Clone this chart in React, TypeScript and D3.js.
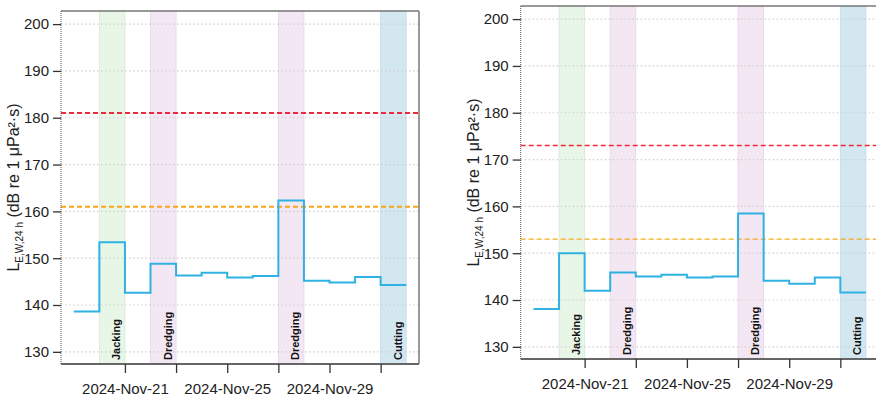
import React, { useEffect, useRef } from "react";
import * as d3 from "d3";

// daily values, one per day starting 2024-11-19
const days = [
  "2024-11-19", "2024-11-20", "2024-11-21", "2024-11-22", "2024-11-23", "2024-11-24",
  "2024-11-25", "2024-11-26", "2024-11-27", "2024-11-28", "2024-11-29", "2024-11-30", "2024-12-01",
];
const leftLevels = [138.6, 153.4, 142.6, 148.8, 146.3, 146.9, 145.9, 146.2, 162.3, 145.2, 144.8, 146.0, 144.3];
const rightLevels = [138.1, 150.0, 142.0, 145.9, 145.0, 145.4, 144.8, 145.0, 158.5, 144.1, 143.5, 144.8, 141.6];

// activities
const activityNames = ["Jacking", "Dredging", "Dredging", "Cutting"];
const activityStart = ["2024-11-20", "2024-11-22", "2024-11-27", "2024-12-01"];
const activityEnd = ["2024-11-21", "2024-11-23", "2024-11-28", "2024-12-02"];

// thresholds: [red, orange]
const leftThresholds = [181, 161];
const rightThresholds = [173, 153];

const yTicks = [130, 140, 150, 160, 170, 180, 190, 200];
const xTickDates = ["2024-11-21", "2024-11-23", "2024-11-25", "2024-11-27", "2024-11-29", "2024-12-01"];
const xLabelDates = ["2024-11-21", "2024-11-25", "2024-11-29"];

const bandColors = {
  Jacking: ["#e8f6e8", "#d6ead6"],
  Dredging: ["#f4e7f4", "#e5d5e5"],
  Cutting: ["#d3e7f1", "#c2dbe8"],
};
const thresholdColors = ["#f0283c", "#f7a71b"];

const parse = d3.utcParse("%Y-%m-%d");
const fmt = d3.utcFormat("%Y-%b-%d");

function Panel({ left, top, levels, thresholds, thick }) {
  const ref = useRef(null);

  useEffect(() => {
    const w = 358, h = 353;
    const g = d3.select(ref.current).attr("transform", `translate(${left}, ${top})`);
    g.selectAll("*").remove();

    const x = d3.scaleUtc()
      .domain([new Date(Date.UTC(2024, 10, 18, 12)), new Date(Date.UTC(2024, 11, 2, 12))])
      .range([0, w]);
    const y = d3.scaleLinear().domain([127.4, 202.8]).range([h, 0]);

    // activity bands
    activityNames.forEach((name, i) => {
      const x0 = x(parse(activityStart[i])), x1 = x(parse(activityEnd[i]));
      g.append("rect")
        .attr("x", x0).attr("y", 0).attr("width", x1 - x0).attr("height", h)
        .attr("fill", bandColors[name][0])
        .attr("stroke", bandColors[name][1]).attr("stroke-width", 0.8);
    });

    // grid
    g.selectAll(".grid").data(yTicks).join("line").attr("class", "grid")
      .attr("x1", 0).attr("x2", w)
      .attr("y1", d => y(d)).attr("y2", d => y(d))
      .attr("stroke", "#cfcfcf").attr("stroke-width", 1.2).attr("stroke-dasharray", "1.5,2.5");

    // thresholds
    thresholds.forEach((t, i) => {
      g.append("line")
        .attr("x1", 0).attr("x2", w).attr("y1", y(t)).attr("y2", y(t))
        .attr("stroke", thresholdColors[i]).attr("stroke-width", thick ? 2 : 1.3)
        .attr("stroke-dasharray", "5,3");
    });

    // activity labels
    activityNames.forEach((name, i) => {
      const x1 = x(parse(activityEnd[i]));
      g.append("text")
        .attr("transform", `translate(${x1 - 4.5}, ${h - 4}) rotate(-90)`)
        .attr("font-family", "Liberation Sans, Arial, sans-serif")
        .attr("font-size", 11).attr("font-weight", "bold").attr("fill", "#111")
        .text(name);
    });

    // step line
    const pts = days.map((d, i) => [x(parse(d)), y(levels[i])]);
    pts.push([x(new Date(Date.UTC(2024, 11, 2))), y(levels[levels.length - 1])]);
    g.append("path")
      .attr("d", d3.line().curve(d3.curveStepAfter)(pts))
      .attr("fill", "none").attr("stroke", "#2fb2e2").attr("stroke-width", 2);

    // frame
    g.append("line").attr("x1", 0).attr("x2", w).attr("y1", 0).attr("y2", 0)
      .attr("stroke", "#777").attr("stroke-width", 1.5);
    g.append("line").attr("x1", w).attr("x2", w).attr("y1", 0).attr("y2", h)
      .attr("stroke", "#777").attr("stroke-width", 1.5);
    g.append("line").attr("x1", 0).attr("x2", w).attr("y1", h).attr("y2", h)
      .attr("stroke", "#666").attr("stroke-width", 2);
    g.append("line").attr("x1", 0).attr("x2", 0).attr("y1", 0).attr("y2", h)
      .attr("stroke", "#555").attr("stroke-width", 1).attr("stroke-dasharray", "1,1");

    // axes
    const yAxis = g.append("g")
      .call(d3.axisLeft(y).tickValues(yTicks).tickSize(8).tickPadding(4));
    yAxis.select(".domain").remove();
    yAxis.selectAll("line").attr("stroke", "#333").attr("stroke-width", 1.3);
    yAxis.selectAll("text").attr("font-size", 15).attr("fill", "#222")
      .attr("font-family", "Liberation Sans, Arial, sans-serif");

    const labelSet = new Set(xLabelDates);
    const xAxis = g.append("g").attr("transform", `translate(0, ${h})`)
      .call(d3.axisBottom(x).tickValues(xTickDates.map(d => parse(d))).tickSize(9).tickPadding(10)
        .tickFormat(d => (labelSet.has(d3.utcFormat("%Y-%m-%d")(d)) ? fmt(d) : "")));
    xAxis.select(".domain").remove();
    xAxis.selectAll("line").attr("stroke", "#333").attr("stroke-width", 1.3);
    xAxis.selectAll("text").attr("font-size", 15).attr("fill", "#222")
      .attr("font-family", "Liberation Sans, Arial, sans-serif");

    // y label
    const lab = g.append("text")
      .attr("transform", `translate(${-42}, ${h / 2}) rotate(-90)`)
      .attr("text-anchor", "middle")
      .attr("font-family", "Liberation Sans, Arial, sans-serif")
      .attr("font-size", 16).attr("fill", "#222");
    lab.append("tspan").text("L");
    lab.append("tspan").attr("font-size", 10).attr("dy", 4).text("E,W,24 h");
    lab.append("tspan").attr("dy", -4).text(" (dB re 1 μPa²·s)");
  }, [left, top, levels, thresholds, thick]);

  return <g ref={ref}></g>;
}

export default function App() {
  return (
    <svg width={876} height={398} style={{ position: "absolute", left: 0, top: 0, background: "#fff" }}>
      <rect width={876} height={398} fill="#fff" />
      <Panel left={61} top={11} levels={leftLevels} thresholds={leftThresholds} thick={true} />
      <Panel left={520.7} top={6} levels={rightLevels} thresholds={rightThresholds} thick={false} />
    </svg>
  );
}
